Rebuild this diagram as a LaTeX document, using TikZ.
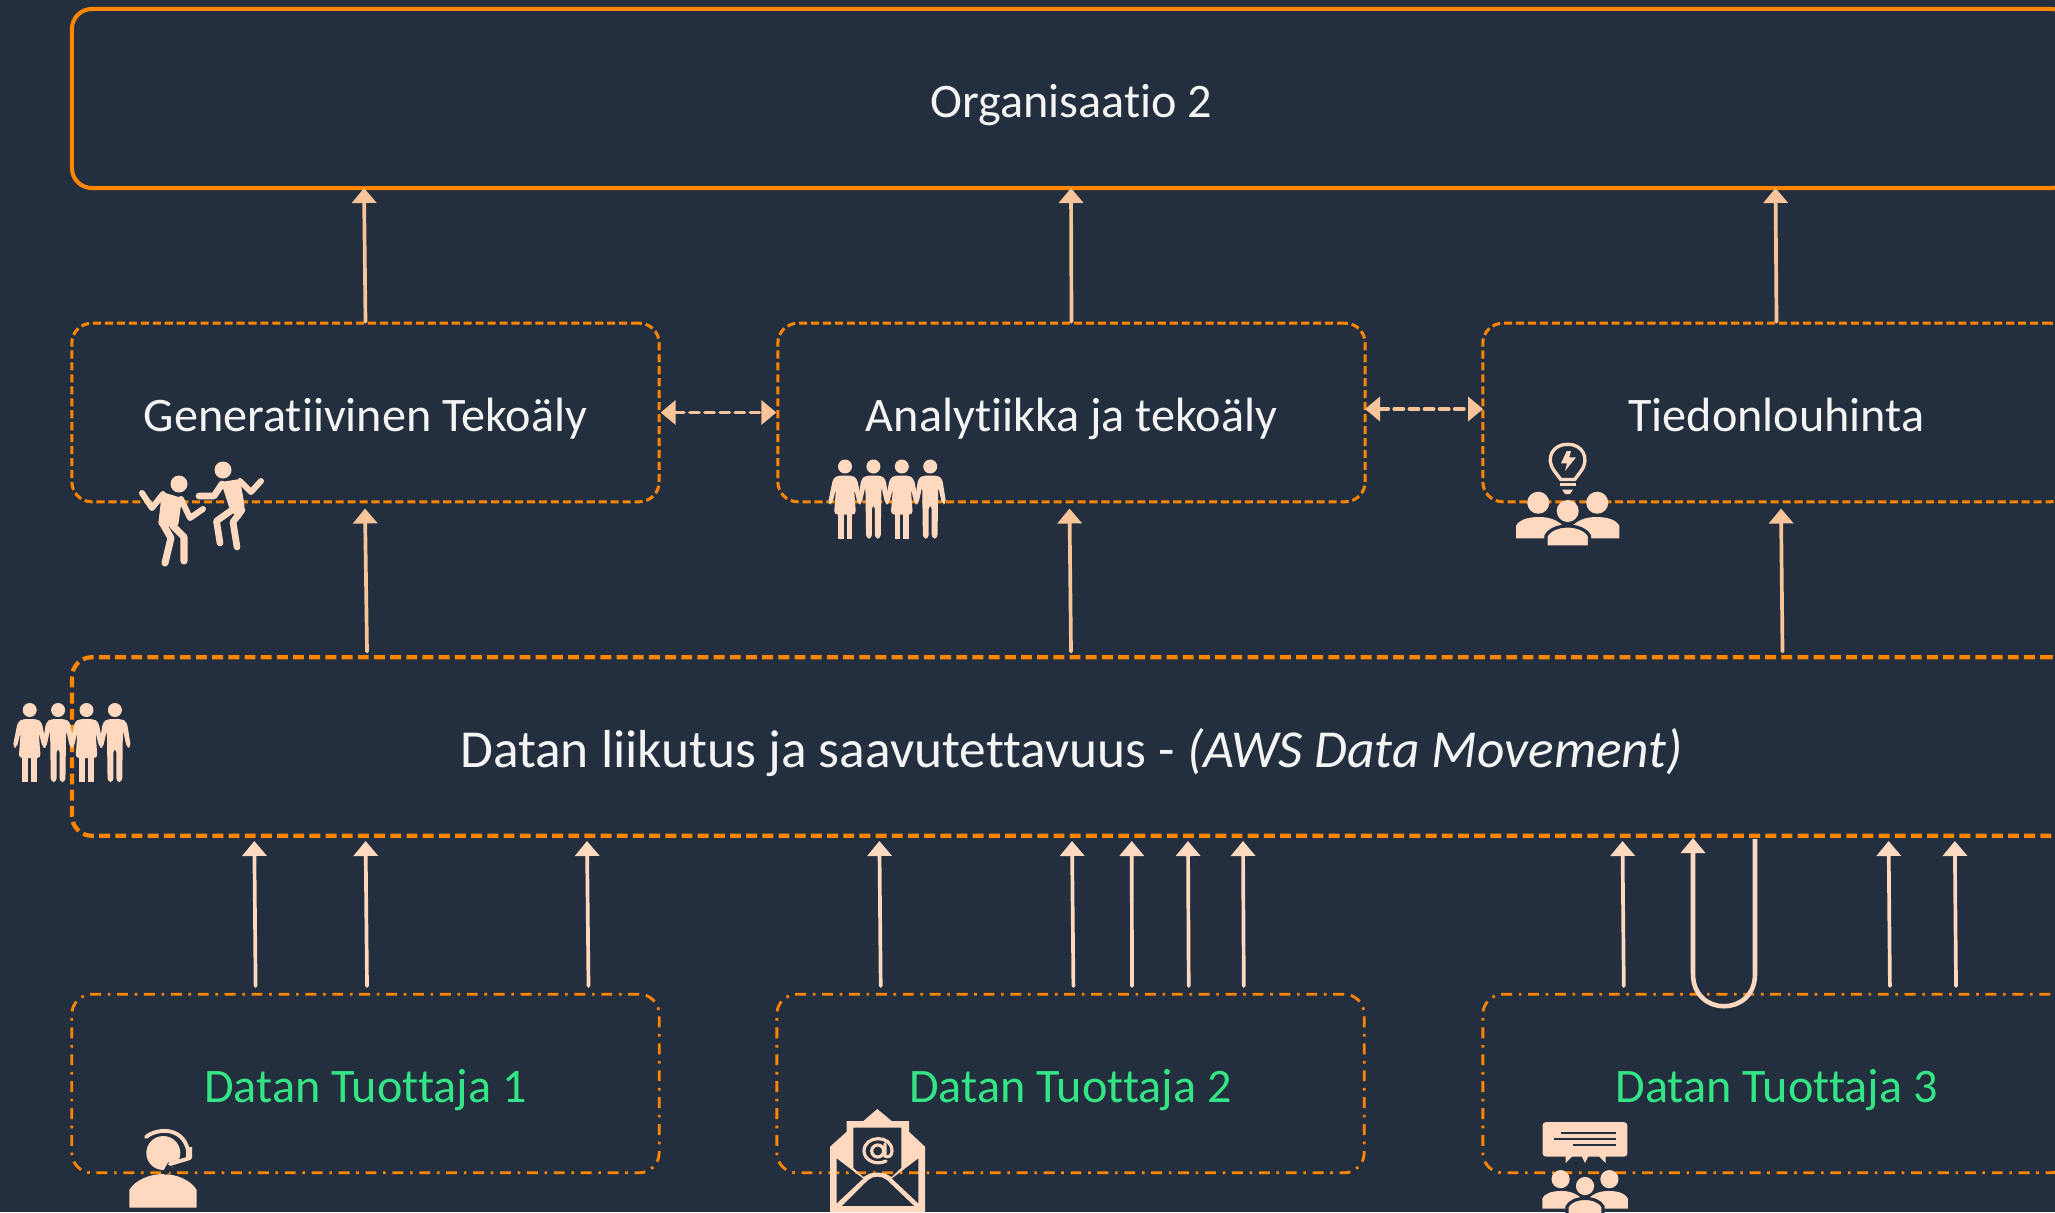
\documentclass[tikz,border=0pt]{standalone}
\usepackage{fontspec}
\setmainfont[Ligatures=NoCommon]{Carlito}
\usetikzlibrary{arrows.meta}

\definecolor{bgdark}{HTML}{232F3E}
\definecolor{boxorange}{HTML}{FF8600}
\definecolor{peach}{HTML}{FFD9BF}
\definecolor{arrowpeach}{HTML}{F8C49A}
\definecolor{prodgreen}{HTML}{33E584}
\definecolor{textwhite}{HTML}{F4F4F4}

\tikzset{
  box/.style={rectangle, rounded corners=5.7pt, minimum width=5.87cm, minimum height=1.785cm, inner sep=0pt,
    text=textwhite, text height=12pt, text depth=1.4pt, font=\fontsize{13.7}{15}\selectfont},
  orgbox/.style={box, draw=boxorange, line width=1.15pt, minimum width=19.98cm, minimum height=1.79cm},
  groupbox/.style={box, draw=boxorange, line width=0.85pt, dash pattern=on 2.3pt off 1.1pt},
  movebox/.style={box, draw=boxorange, line width=1.2pt, minimum width=19.98cm, dash pattern=on 3.1pt off 1.5pt,
    text height=13.2pt, font=\fontsize{15.2}{17}\selectfont},
  prodbox/.style={box, draw=boxorange, line width=0.8pt, text=prodgreen, dash pattern=on 3.1pt off 1.9pt on 0.75pt off 1.9pt},
  flow/.style={line width=1.05pt, line cap=round, draw=peach, -{Triangle[width=2.4mm,length=1.5mm]}},
  flowup/.style={flow, draw=arrowpeach},
  flowboth/.style={flowup, dash pattern=on 2.6pt off 1.7pt, {Triangle[width=2.4mm,length=1.5mm]}-{Triangle[width=2.4mm,length=1.5mm]}},
  woman/.pic={
    \fill[peach] (0,0) circle (7);
    \fill[peach,rounded corners=1pt] (-7,9) -- (7,9) -- (12,12) -- (17,37) -- (13,38) -- (9,22) -- (11,48) -- (-11,48) -- (-9,22) -- (-13,38) -- (-17,37) -- (-12,12) -- cycle;
    \fill[peach] (-7.3,47) rectangle (-1.5,72);
    \fill[peach] (1.5,47) rectangle (7.3,72);
  },
  man/.pic={
    \fill[peach] (0,0) circle (7);
    \fill[peach,rounded corners=1pt] (-7,9) -- (7,9) -- (12,12) -- (16,37) -- (12,38) -- (8,20) -- (7.3,72) -- (1.5,72) -- (1.5,39) -- (-1.5,39) -- (-1.5,72) -- (-7.3,72) -- (-8,20) -- (-12,38) -- (-16,37) -- (-12,12) -- cycle;
  },
  fourpeople/.pic={
    \pic at (0,0) {woman};
    \pic at (28.4,0) {man};
    \pic at (56.8,0) {woman};
    \pic at (85.2,0) {man};
  },
  team/.pic={
    \fill[peach] (-29.5,-8.3) circle (11);
    \fill[peach] (29.5,-8.3) circle (11);
    \fill[peach] (-51.7,27.3) -- (-51.7,15) .. controls (-49,9) and (-40,6) .. (-29,6) .. controls (-18,6) and (-8,9) .. (0,20) -- (0,27.3) -- cycle;
    \fill[peach] (51.7,27.3) -- (51.7,15) .. controls (49,9) and (40,6) .. (29,6) .. controls (18,6) and (8,9) .. (0,20) -- (0,27.3) -- cycle;
    \filldraw[fill=peach, draw=bgdark, line width=0.9pt] (-21.8,36) -- (-21.8,25) .. controls (-19,19) and (-10,15) .. (0,15) .. controls (10,15) and (19,19) .. (21.8,25) -- (21.8,36) -- cycle;
    \fill[peach] (0,0) circle (11);
  }
}

\begin{document}
\begin{tikzpicture}[x=0.01cm,y=-0.01cm]
    % page and background
    \useasboundingbox (0,0) rectangle (2055,1212);
    \fill[bgdark] (0,0) rectangle (2055,1212);
    \clip (0,0) rectangle (2055,1212);

    % the boxes
    \node[orgbox] (org) at (1071.5,98.5) {Organisaatio 2};
    \node[groupbox] (genai) at (365.5,412.5) {Generatiivinen Tekoäly};
    \node[groupbox] (analytics) at (1071.5,412.5) {Analytiikka ja tekoäly};
    \node[groupbox] (mining) at (1776.5,412.5) {Tiedonlouhinta};
    \node[movebox] (movement) at (1071.5,746.5) {Datan liikutus ja saavutettavuus - \textit{(AWS Data Movement)}};
    \node[prodbox] (prod1) at (365.5,1083.5) {Datan Tuottaja 1};
    \node[prodbox] (prod2) at (1070.5,1083.5) {Datan Tuottaja 2};
    \node[prodbox] (prod3) at (1776.5,1083.5) {Datan Tuottaja 3};

    % the arrow ends (here I just create coordinates to use them later on for the arrows)
    \coordinate (orgin1) at (364,188);
    \coordinate (orgin2) at (1071,188);
    \coordinate (orgin3) at (1775.5,188);
    %
    \coordinate (genin) at (365,508.5);
    \coordinate (anain) at (1069.5,508.5);
    \coordinate (minin) at (1781,508.5);
    \coordinate (movout1) at (367,651.5);
    \coordinate (movout2) at (1071,651.5);
    \coordinate (movout3) at (1782.5,651.5);
    %
    \coordinate (anaright) at (1365,409);
    \coordinate (minleft) at (1483,409);
    %
    \coordinate (pa1) at (255.6,986);
    \coordinate (pa2) at (367,986);
    \coordinate (pa3) at (588.5,986);
    \coordinate (pb1) at (880.7,986);
    \coordinate (pb2) at (1073.4,986);
    \coordinate (pb3) at (1132,986);
    \coordinate (pb4) at (1188.7,986);
    \coordinate (pb5) at (1243.8,986);
    \coordinate (pc1) at (1623.8,986);
    \coordinate (pc2) at (1889.9,986);
    \coordinate (pc3) at (1956,986);
    %
    \coordinate (ma1) at (254.3,841);
    \coordinate (ma2) at (365.6,841);
    \coordinate (ma3) at (587,841);
    \coordinate (mb1) at (879.4,841);
    \coordinate (mb2) at (1072,841);
    \coordinate (mb3) at (1131.7,841);
    \coordinate (mb4) at (1188,841);
    \coordinate (mb5) at (1243,841);
    \coordinate (mc1) at (1622.5,841);
    \coordinate (mc2) at (1888.6,841);
    \coordinate (mc3) at (1954.8,841);
    %
    \coordinate (loopstart) at (1755,839);
    \coordinate (loopend) at (1693,838);

    % draw the arrows
    \draw[flowup] (genai.north) -- (orgin1);
    \draw[flowup] (analytics.north) -- (orgin2);
    \draw[flowup] (mining.north) -- (orgin3);
    \draw[flowboth] (genai.east) -- (analytics.west);
    \draw[flowboth] (anaright) -- (minleft);
    \draw[flowup] (movout1) -- (genin);
    \draw[flowup] (movout2) -- (anain);
    \draw[flowup] (movout3) -- (minin);
    %
    \draw[flow] (pa1) -- (ma1);
    \draw[flow] (pa2) -- (ma2);
    \draw[flow] (pa3) -- (ma3);
    \draw[flow] (pb1) -- (mb1);
    \draw[flow] (pb2) -- (mb2);
    \draw[flow] (pb3) -- (mb3);
    \draw[flow] (pb4) -- (mb4);
    \draw[flow] (pb5) -- (mb5);
    \draw[flow] (pc1) -- (mc1);
    \draw[flow] (pc2) -- (mc2);
    \draw[flow] (pc3) -- (mc3);
    \draw[flow, line cap=butt, line width=1.3pt] (loopstart) -- (1755,974) .. controls (1755,1017) and (1693,1017) .. (1693,974) -- (loopend);

    % the four people icons
    \pic at (29.7,710) {fourpeople};
    \pic at (845,466.5) {fourpeople};

    % the two dancers
    \fill[peach] (179,484) circle (8.5);
    \fill[peach] (223,470) circle (8.5);
    \draw[peach, line width=1.7pt, line cap=round, line join=round] (142,493) -- (152,508) -- (163,494);
    \draw[peach, line width=1.7pt, line cap=round, line join=round] (181,499) -- (190,518) -- (203,509);
    \fill[peach, rounded corners=1pt] (162,492) -- (182,498) -- (178,527) -- (158,526) -- cycle;
    \draw[peach, line width=2pt, line cap=round, line join=round] (163,524) -- (171,538) -- (165,563);
    \draw[peach, line width=2pt, line cap=round, line join=round] (173,526) -- (184,537) -- (184,561);
    \draw[peach, line width=1.9pt, line cap=round, line join=round] (199,496) -- (214,496) -- (222,484);
    \draw[peach, line width=1.7pt, line cap=round, line join=round] (240,481) -- (251,492) -- (261,481);
    \fill[peach, rounded corners=1pt] (221,482) -- (240,479) -- (245,508) -- (240,520) -- (230,510) -- cycle;
    \draw[peach, line width=1.9pt, line cap=round, line join=round] (232,510) -- (216.5,521) -- (220,543);
    \draw[peach, line width=1.9pt, line cap=round, line join=round] (242,510) -- (233,522) -- (237,547);

    % the bulb and its team
    \draw[peach, line width=0.95pt, line join=round] (1560.7,479.5) -- (1554,470.5) .. controls (1545,458) and (1553,444) .. (1567.7,444.3) .. controls (1582,444) and (1590,458) .. (1581.4,470.5) -- (1574.7,479.5) -- cycle;
    \draw[peach, line width=1pt] (1560,484.5) -- (1576,484.5);
    \fill[peach] (1562,489.5) -- (1573,489.5) -- (1570,494) -- (1565,494) -- cycle;
    \fill[peach] (1566.7,451) -- (1561,463.3) -- (1567,463.3) -- (1565,471) -- (1576,457.3) -- (1569.3,457.3) -- (1571,451) -- cycle;
    \pic at (1567.7,511) {team};

    % the headset
    \fill[peach] (163.3,1153) circle (17);
    \fill[peach] (129.3,1207.7) -- (129.3,1190) .. controls (135,1180) and (150,1174) .. (163,1174) .. controls (176,1174) and (191,1180) .. (196.7,1190) -- (196.7,1207.7) -- cycle;
    \draw[bgdark, line width=1.6pt, line cap=round] (192,1159) -- (170,1165) -- (166,1172);
    \draw[peach, line width=1.1pt, line cap=round] (146,1137) .. controls (155,1129) and (182,1125) .. (188,1150);
    \fill[peach] (186,1147) -- (192,1147) -- (192,1158) -- (186,1160) -- cycle;
    \draw[peach, line width=1.1pt, line cap=round] (190,1158) -- (170,1164);

    % the open envelope
    \fill[peach, even odd rule] (830,1212) -- (830,1146.7) -- (846.7,1131.7) -- (846.7,1121) -- (863.3,1121) -- (877.3,1109) -- (891.7,1121) -- (909,1121) -- (909,1131.7) -- (925,1146.7) -- (925,1212) -- cycle
      (853.3,1127.7) -- (901.3,1127.7) -- (901.3,1168) -- (891.7,1177) -- (885,1173.5) -- (877.3,1172.5) -- (870,1173.5) -- (863.3,1177) -- (853.3,1168) -- cycle
      (836.7,1158.3) -- (863.3,1178.5) -- (836.7,1203.5) -- cycle
      (918.3,1158.3) -- (918.3,1203.5) -- (891.7,1178.5) -- cycle
      (841.7,1206) -- (868,1180) .. controls (873,1175.5) and (882,1175.5) .. (887,1180) -- (914.3,1206) -- cycle;
    \draw[peach, line width=0.9pt, line cap=round] (886,1161) .. controls (876,1166) and (864,1160) .. (864,1151) .. controls (864,1135) and (892,1134) .. (892,1151) .. controls (892,1156) and (888,1158) .. (885,1156) -- (885,1144);
    \draw[peach, line width=0.9pt] (877.7,1151) circle (6);

    % the chat bubble and its team
    \fill[peach, rounded corners=1pt] (1542.5,1122) rectangle (1627.4,1156.7);
    \fill[peach] (1565.5,1156) -- (1572.6,1156) -- (1565.5,1163) -- cycle;
    \fill[peach] (1581.5,1156) -- (1588.5,1156) -- (1585,1163) -- cycle;
    \fill[peach] (1598.5,1156) -- (1605.5,1156) -- (1605.5,1163) -- cycle;
    \fill[bgdark] (1561,1132.3) rectangle (1616,1134.3);
    \fill[bgdark] (1553.8,1138.3) rectangle (1616,1140.3);
    \fill[bgdark] (1572.6,1144) rectangle (1616,1146);
    \pic[scale=0.827] at (1585,1186) {team};
\end{tikzpicture}
\end{document}
